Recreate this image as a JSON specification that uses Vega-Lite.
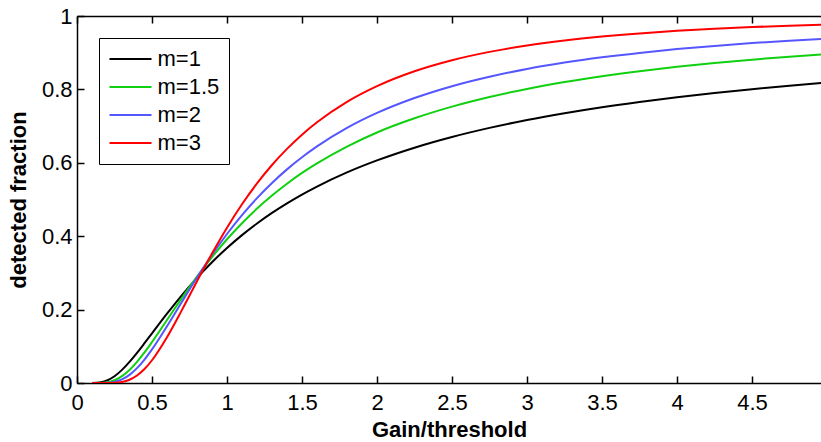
{
  "$schema": "https://vega.github.io/schema/vega-lite/v6.json",
  "width": 744,
  "height": 367,
  "autosize": {"type": "none"},
  "padding": {"left": 77, "top": 16, "right": 0, "bottom": 59},
  "background": "white",
  "config": {"view": {"stroke": null}, "font": "Liberation Sans"},
  "data": {"values": [
    {"series": "m=1", "x": 0.1, "y": 0.0000}, {"series": "m=1", "x": 0.15, "y": 0.0013}, {"series": "m=1", "x": 0.2, "y": 0.0067}, {"series": "m=1", "x": 0.25, "y": 0.0183}, {"series": "m=1", "x": 0.3, "y": 0.0357}, {"series": "m=1", "x": 0.35, "y": 0.0574}, {"series": "m=1", "x": 0.4, "y": 0.0821}, {"series": "m=1", "x": 0.45, "y": 0.1084}, {"series": "m=1", "x": 0.5, "y": 0.1353}, {"series": "m=1", "x": 0.6, "y": 0.1889}, {"series": "m=1", "x": 0.7, "y": 0.2397}, {"series": "m=1", "x": 0.8, "y": 0.2865}, {"series": "m=1", "x": 0.9, "y": 0.3292}, {"series": "m=1", "x": 1.0, "y": 0.3679}, {"series": "m=1", "x": 1.1, "y": 0.4029}, {"series": "m=1", "x": 1.2, "y": 0.4346}, {"series": "m=1", "x": 1.3, "y": 0.4634}, {"series": "m=1", "x": 1.4, "y": 0.4895}, {"series": "m=1", "x": 1.5, "y": 0.5134}, {"series": "m=1", "x": 1.6, "y": 0.5353}, {"series": "m=1", "x": 1.8, "y": 0.5738}, {"series": "m=1", "x": 2.0, "y": 0.6065}, {"series": "m=1", "x": 2.25, "y": 0.6412}, {"series": "m=1", "x": 2.5, "y": 0.6703}, {"series": "m=1", "x": 2.75, "y": 0.6951}, {"series": "m=1", "x": 3.0, "y": 0.7165}, {"series": "m=1", "x": 3.25, "y": 0.7351}, {"series": "m=1", "x": 3.5, "y": 0.7515}, {"series": "m=1", "x": 3.75, "y": 0.7659}, {"series": "m=1", "x": 4.0, "y": 0.7788}, {"series": "m=1", "x": 4.25, "y": 0.7903}, {"series": "m=1", "x": 4.5, "y": 0.8007}, {"series": "m=1", "x": 4.75, "y": 0.8101}, {"series": "m=1", "x": 5.0, "y": 0.8187},
    {"series": "m=1.5", "x": 0.1, "y": 0.0000}, {"series": "m=1.5", "x": 0.15, "y": 0.0002}, {"series": "m=1.5", "x": 0.2, "y": 0.0018}, {"series": "m=1.5", "x": 0.25, "y": 0.0074}, {"series": "m=1.5", "x": 0.3, "y": 0.0186}, {"series": "m=1.5", "x": 0.35, "y": 0.0355}, {"series": "m=1.5", "x": 0.4, "y": 0.0576}, {"series": "m=1.5", "x": 0.45, "y": 0.0833}, {"series": "m=1.5", "x": 0.5, "y": 0.1116}, {"series": "m=1.5", "x": 0.6, "y": 0.1718}, {"series": "m=1.5", "x": 0.7, "y": 0.2321}, {"series": "m=1.5", "x": 0.8, "y": 0.2897}, {"series": "m=1.5", "x": 0.9, "y": 0.3430}, {"series": "m=1.5", "x": 1.0, "y": 0.3916}, {"series": "m=1.5", "x": 1.1, "y": 0.4354}, {"series": "m=1.5", "x": 1.2, "y": 0.4752}, {"series": "m=1.5", "x": 1.3, "y": 0.5109}, {"series": "m=1.5", "x": 1.4, "y": 0.5430}, {"series": "m=1.5", "x": 1.5, "y": 0.5724}, {"series": "m=1.5", "x": 1.6, "y": 0.5984}, {"series": "m=1.5", "x": 1.8, "y": 0.6442}, {"series": "m=1.5", "x": 2.0, "y": 0.6826}, {"series": "m=1.5", "x": 2.25, "y": 0.7212}, {"series": "m=1.5", "x": 2.5, "y": 0.7530}, {"series": "m=1.5", "x": 2.75, "y": 0.7793}, {"series": "m=1.5", "x": 3.0, "y": 0.8013}, {"series": "m=1.5", "x": 3.25, "y": 0.8199}, {"series": "m=1.5", "x": 3.5, "y": 0.8358}, {"series": "m=1.5", "x": 3.75, "y": 0.8495}, {"series": "m=1.5", "x": 4.0, "y": 0.8614}, {"series": "m=1.5", "x": 4.25, "y": 0.8718}, {"series": "m=1.5", "x": 4.5, "y": 0.8810}, {"series": "m=1.5", "x": 4.75, "y": 0.8892}, {"series": "m=1.5", "x": 5.0, "y": 0.8964},
    {"series": "m=2", "x": 0.1, "y": 0.0000}, {"series": "m=2", "x": 0.15, "y": 0.0000}, {"series": "m=2", "x": 0.2, "y": 0.0005}, {"series": "m=2", "x": 0.25, "y": 0.0030}, {"series": "m=2", "x": 0.3, "y": 0.0098}, {"series": "m=2", "x": 0.35, "y": 0.0221}, {"series": "m=2", "x": 0.4, "y": 0.0404}, {"series": "m=2", "x": 0.45, "y": 0.0639}, {"series": "m=2", "x": 0.5, "y": 0.0916}, {"series": "m=2", "x": 0.6, "y": 0.1546}, {"series": "m=2", "x": 0.7, "y": 0.2215}, {"series": "m=2", "x": 0.8, "y": 0.2873}, {"series": "m=2", "x": 0.9, "y": 0.3493}, {"series": "m=2", "x": 1.0, "y": 0.4060}, {"series": "m=2", "x": 1.1, "y": 0.4574}, {"series": "m=2", "x": 1.2, "y": 0.5037}, {"series": "m=2", "x": 1.3, "y": 0.5450}, {"series": "m=2", "x": 1.4, "y": 0.5821}, {"series": "m=2", "x": 1.5, "y": 0.6151}, {"series": "m=2", "x": 1.6, "y": 0.6446}, {"series": "m=2", "x": 1.8, "y": 0.6950}, {"series": "m=2", "x": 2.0, "y": 0.7358}, {"series": "m=2", "x": 2.25, "y": 0.7765}, {"series": "m=2", "x": 2.5, "y": 0.8088}, {"series": "m=2", "x": 2.75, "y": 0.8346}, {"series": "m=2", "x": 3.0, "y": 0.8557}, {"series": "m=2", "x": 3.25, "y": 0.8730}, {"series": "m=2", "x": 3.5, "y": 0.8874}, {"series": "m=2", "x": 3.75, "y": 0.8995}, {"series": "m=2", "x": 4.0, "y": 0.9098}, {"series": "m=2", "x": 4.25, "y": 0.9185}, {"series": "m=2", "x": 4.5, "y": 0.9262}, {"series": "m=2", "x": 4.75, "y": 0.9327}, {"series": "m=2", "x": 5.0, "y": 0.9384},
    {"series": "m=3", "x": 0.1, "y": 0.0000}, {"series": "m=3", "x": 0.15, "y": 0.0000}, {"series": "m=3", "x": 0.2, "y": 0.0000}, {"series": "m=3", "x": 0.25, "y": 0.0005}, {"series": "m=3", "x": 0.3, "y": 0.0028}, {"series": "m=3", "x": 0.35, "y": 0.0088}, {"series": "m=3", "x": 0.4, "y": 0.0203}, {"series": "m=3", "x": 0.45, "y": 0.0380}, {"series": "m=3", "x": 0.5, "y": 0.0620}, {"series": "m=3", "x": 0.6, "y": 0.1247}, {"series": "m=3", "x": 0.7, "y": 0.1992}, {"series": "m=3", "x": 0.8, "y": 0.2771}, {"series": "m=3", "x": 0.9, "y": 0.3528}, {"series": "m=3", "x": 1.0, "y": 0.4232}, {"series": "m=3", "x": 1.1, "y": 0.4870}, {"series": "m=3", "x": 1.2, "y": 0.5438}, {"series": "m=3", "x": 1.3, "y": 0.5940}, {"series": "m=3", "x": 1.4, "y": 0.6379}, {"series": "m=3", "x": 1.5, "y": 0.6767}, {"series": "m=3", "x": 1.6, "y": 0.7104}, {"series": "m=3", "x": 1.8, "y": 0.7660}, {"series": "m=3", "x": 2.0, "y": 0.8088}, {"series": "m=3", "x": 2.25, "y": 0.8494}, {"series": "m=3", "x": 2.5, "y": 0.8795}, {"series": "m=3", "x": 2.75, "y": 0.9022}, {"series": "m=3", "x": 3.0, "y": 0.9197}, {"series": "m=3", "x": 3.25, "y": 0.9333}, {"series": "m=3", "x": 3.5, "y": 0.9440}, {"series": "m=3", "x": 3.75, "y": 0.9526}, {"series": "m=3", "x": 4.0, "y": 0.9595}, {"series": "m=3", "x": 4.25, "y": 0.9652}, {"series": "m=3", "x": 4.5, "y": 0.9698}, {"series": "m=3", "x": 4.75, "y": 0.9737}, {"series": "m=3", "x": 5.0, "y": 0.9769}
  ]},
  "layer": [
    {
      "mark": {"type": "line", "strokeWidth": 2, "interpolate": "monotone", "clip": true},
      "encoding": {
        "x": {
          "field": "x", "type": "quantitative",
          "scale": {"domain": [0, 4.96], "nice": false, "zero": false},
          "axis": {
            "orient": "bottom",
            "values": [0, 0.5, 1, 1.5, 2, 2.5, 3, 3.5, 4, 4.5],
            "format": "~g",
            "grid": false,
            "tickSize": -7, "tickColor": "black", "tickWidth": 1.5,
            "domainColor": "black", "domainWidth": 1.5,
            "labelFontSize": 22, "labelColor": "black", "labelPadding": 16.4,
            "labelFlush": false, "labelOverlap": false, "labelBound": false,
            "title": "Gain/threshold", "titleFontSize": 22, "titleFontWeight": "bold",
            "titleColor": "black", "titleY": 53, "titleBaseline": "alphabetic"
          }
        },
        "y": {
          "field": "y", "type": "quantitative",
          "scale": {"domain": [0, 1], "nice": false},
          "axis": {
            "orient": "left",
            "values": [0, 0.2, 0.4, 0.6, 0.8, 1],
            "format": "~g",
            "grid": false,
            "tickSize": -7, "tickColor": "black", "tickWidth": 1.5,
            "domainColor": "black", "domainWidth": 1.5,
            "labelFontSize": 22, "labelColor": "black", "labelPadding": 12,
            "labelFlush": false, "labelOverlap": false, "labelBound": false,
            "title": "detected fraction", "titleFontSize": 22, "titleFontWeight": "bold",
            "titleColor": "black", "titleX": -52, "titleY": 183.5, "titleAngle": -90,
            "titleBaseline": "alphabetic", "titleAlign": "center"
          }
        },
        "color": {
          "field": "series", "type": "nominal",
          "scale": {"domain": ["m=1", "m=1.5", "m=2", "m=3"], "range": ["#000000", "#10d010", "#5656ff", "#ff0000"]},
          "legend": {
            "orient": "none", "legendX": 22, "legendY": 22,
            "title": null,
            "symbolType": "M-1,0H3", "symbolSize": 441, "symbolStrokeWidth": 2,
            "labelFontSize": 22, "labelColor": "black", "labelOffset": 26,
            "strokeColor": "black", "fillColor": "white",
            "padding": 9.5, "rowPadding": 5
          }
        }
      }
    },
    {
      "mark": {"type": "line", "strokeOpacity": 0},
      "encoding": {
        "x": {
          "field": "x", "type": "quantitative",
          "axis": {
            "orient": "top",
            "values": [0, 0.5, 1, 1.5, 2, 2.5, 3, 3.5, 4, 4.5],
            "grid": false, "labels": false, "title": null,
            "tickSize": -7, "tickColor": "black", "tickWidth": 1.5,
            "domainColor": "black", "domainWidth": 1.5
          }
        },
        "y": {"field": "y", "type": "quantitative", "axis": null}
      }
    }
  ],
  "resolve": {"axis": {"x": "independent", "y": "independent"}}
}
